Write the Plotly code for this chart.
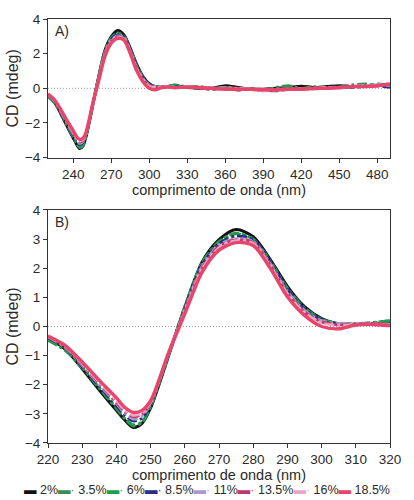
import plotly.graph_objects as go

# ---------------- data ----------------
wavelength = [220, 225, 230, 235, 240, 242.5, 245, 247.5, 250, 252.5, 255, 260, 265, 270, 275, 280, 285, 290,
              295, 300, 305, 310, 315, 320,
              330, 340, 350, 360, 370, 380, 390, 400, 410, 420, 430, 440, 450, 460, 470, 480, 490]

series_names = ["2%", "3.5%", "6%", "8.5%", "11%", "13.5%", "16%", "18.5%"]

cd_2 = [-0.40, -0.78, -1.45, -2.18, -2.88, -3.22, -3.47, -3.33, -2.80, -1.98, -1.10, 0.66, 2.20, 2.98, 3.33, 3.08, 2.30, 1.38,
        0.68, 0.27, 0.09, 0.08, 0.10, 0.12,
        0.05, 0.02, 0.00, 0.15, 0.05, -0.05, -0.05, 0.00, 0.05, 0.12, 0.05, 0.10, 0.15, 0.10, 0.15, 0.15, 0.20]
cd_3_5 = [-0.48, -0.82, -1.42, -2.12, -2.82, -3.18, -3.42, -3.30, -2.76, -1.94, -1.08, 0.68, 2.18, 2.92, 3.20, 3.00, 2.25, 1.32,
          0.64, 0.25, 0.10, 0.10, 0.14, 0.18,
          0.10, 0.05, 0.00, 0.05, 0.00, -0.05, -0.10, 0.05, 0.15, 0.00, 0.10, 0.05, 0.10, 0.20, 0.25, 0.20, 0.15]
cd_6 = [-0.45, -0.80, -1.40, -2.10, -2.80, -3.15, -3.38, -3.27, -2.73, -1.92, -1.06, 0.66, 2.15, 2.90, 3.18, 3.00, 2.22, 1.30,
        0.62, 0.24, 0.08, 0.08, 0.12, 0.20,
        0.08, 0.10, 0.00, 0.05, -0.05, 0.00, -0.08, 0.00, 0.10, -0.05, 0.05, 0.00, 0.05, 0.10, 0.15, 0.25, 0.20]
cd_8_5 = [-0.38, -0.74, -1.38, -2.05, -2.72, -3.05, -3.25, -3.15, -2.68, -1.89, -1.05, 0.62, 2.10, 2.85, 3.10, 2.98, 2.22, 1.28,
          0.60, 0.22, 0.06, 0.07, 0.10, 0.10,
          0.05, 0.00, -0.05, 0.00, -0.10, -0.05, -0.10, -0.15, -0.05, -0.05, 0.00, 0.05, 0.10, 0.05, 0.10, 0.15, 0.05]
cd_11 = [-0.36, -0.72, -1.33, -2.00, -2.65, -2.98, -3.18, -3.08, -2.65, -1.87, -1.03, 0.58, 2.05, 2.80, 3.02, 2.92, 2.15, 1.20,
         0.55, 0.20, 0.10, 0.10, 0.10, 0.08,
         0.05, 0.05, 0.00, 0.05, 0.00, -0.05, -0.15, -0.10, -0.05, 0.00, -0.05, 0.05, 0.05, 0.10, 0.15, 0.20, 0.15]
cd_13_5 = [-0.35, -0.70, -1.30, -1.95, -2.60, -2.92, -3.10, -3.02, -2.62, -1.86, -1.02, 0.55, 2.00, 2.75, 2.98, 2.88, 2.10, 1.15,
           0.50, 0.16, 0.06, 0.08, 0.10, 0.06,
           0.05, 0.00, -0.05, 0.00, 0.00, -0.05, -0.10, -0.05, 0.00, -0.05, 0.00, 0.00, 0.05, 0.10, 0.10, 0.15, 0.20]
cd_16 = [-0.34, -0.68, -1.27, -1.92, -2.55, -2.88, -3.05, -2.97, -2.60, -1.85, -1.00, 0.50, 1.95, 2.70, 2.95, 2.85, 2.08, 1.12,
         0.48, 0.12, 0.04, 0.07, 0.08, 0.05,
         0.10, 0.05, 0.00, -0.05, 0.00, -0.05, -0.15, -0.10, -0.05, -0.05, 0.00, 0.05, 0.00, 0.10, 0.15, 0.20, 0.25]
cd_18_5 = [-0.33, -0.65, -1.22, -1.85, -2.45, -2.78, -2.95, -2.88, -2.55, -1.82, -0.98, 0.43, 1.85, 2.62, 2.88, 2.78, 2.00, 1.02,
           0.38, 0.00, -0.08, 0.05, 0.07, 0.03,
           0.08, 0.05, 0.00, -0.05, -0.05, -0.05, -0.08, -0.10, -0.05, -0.05, 0.00, 0.00, 0.05, 0.10, 0.10, 0.15, 0.25]

all_series = [cd_2, cd_3_5, cd_6, cd_8_5, cd_11, cd_13_5, cd_16, cd_18_5]

# ---------------- styles ----------------
colors = ["#111111", "#3d8c55", "#1e9e50", "#2c2c86", "#a99ccb", "#c2376a", "#eaa6c6", "#e8456b"]
dashes = ["solid", "10px,3px,3px,3px", "10px,3px,3px,3px", "10px,3px,3px,3px",
          "10px,3px,3px,3px", "10px,3px,3px,3px", "10px,3px,3px,3px", "solid"]
widths = [3, 2.8, 2.8, 2.8, 2.8, 2.8, 2.8, 3.4]

FONT = "Liberation Sans, Arial, sans-serif"
TXT = "#2a2a2a"
LINE = "#333333"

fig = go.Figure()
for name, vals, c, d, w in zip(series_names, all_series, colors, dashes, widths):
    fig.add_trace(go.Scatter(x=wavelength, y=vals, mode="lines", name=name,
                             line=dict(color=c, dash=d, width=w, shape="spline", smoothing=0.8),
                             xaxis="x", yaxis="y", showlegend=False))
for name, vals, c, d, w in zip(series_names, all_series, colors, dashes, widths):
    fig.add_trace(go.Scatter(x=wavelength, y=vals, mode="lines", name=name,
                             line=dict(color=c, dash=d, width=w, shape="spline", smoothing=0.8),
                             xaxis="x2", yaxis="y2", showlegend=False))

tickfont = dict(family=FONT, size=13.5, color=TXT)
base_x = dict(showgrid=False, zeroline=False, showline=True, linecolor=LINE, linewidth=1,
              mirror=True, ticks="outside", ticklen=4, tickcolor=LINE, tickfont=tickfont)
base_y = dict(showgrid=False, zeroline=False, showline=True, linecolor=LINE, linewidth=1,
              mirror=True, ticks="outside", ticklen=4, tickcolor=LINE, tickfont=tickfont)
over = dict(showgrid=False, zeroline=False, showline=False, showticklabels=False,
            ticks="inside", ticklen=4, tickcolor=LINE)

xtitle = dict(text="comprimento de onda (nm)", font=dict(family=FONT, size=14.5, color=TXT), standoff=3)
ytitle = dict(text="CD (mdeg)", font=dict(family=FONT, size=16, color=TXT), standoff=2)

yA = [0.673, 1.0]
yB = [0.0, 0.5496]

fig.update_layout(
    width=414, height=500,
    margin=dict(l=45, r=24, t=16, b=57),
    paper_bgcolor="white", plot_bgcolor="white",
    xaxis=dict(base_x, domain=[0, 1], anchor="y", range=[220, 490], tick0=240, dtick=30, title=xtitle),
    yaxis=dict(base_y, domain=yA, anchor="x", range=[-4, 4], dtick=2, title=ytitle),
    xaxis2=dict(base_x, domain=[0, 1], anchor="y2", range=[220, 320], tick0=220, dtick=10, title=xtitle),
    yaxis2=dict(base_y, domain=yB, anchor="x2", range=[-4, 4], dtick=1, title=ytitle),
    xaxis3=dict(over, overlaying="x", anchor="y", side="top", range=[220, 490], tick0=240, dtick=30),
    yaxis3=dict(over, overlaying="y", anchor="x", side="right", range=[-4, 4], dtick=2),
    xaxis4=dict(over, overlaying="x2", anchor="y2", side="top", range=[220, 320], tick0=220, dtick=10),
    yaxis4=dict(over, overlaying="y2", anchor="x2", side="right", range=[-4, 4], dtick=1),
    showlegend=False,
)

# dotted zero reference lines
for xr, yr in [("x domain", "y"), ("x2 domain", "y2")]:
    fig.add_shape(type="line", xref=xr, yref=yr, x0=0, x1=1, y0=0, y1=0,
                  line=dict(color="#9a9a9a", width=1, dash="1px,2px"), layer="below")

# panel labels
fig.add_annotation(text="A)", xref="x domain", yref="y domain", x=0.015, y=0.985,
                   xanchor="left", yanchor="top", showarrow=False,
                   font=dict(family=FONT, size=14, color=TXT))
fig.add_annotation(text="B)", xref="x2 domain", yref="y2 domain", x=0.015, y=0.99,
                   xanchor="left", yanchor="top", showarrow=False,
                   font=dict(family=FONT, size=14, color=TXT))

# legend row (text keys)
parts = []
for name, c, d in zip(series_names, colors, dashes):
    key = "▬" if d == "solid" else "▬·"
    parts.append(f"<span style='color:{c}'>{key}</span> {name}")
fig.add_annotation(text="".join(parts), xref="paper", yref="paper", x=0.464, y=-0.112,
                   xanchor="center", yanchor="middle", showarrow=False,
                   font=dict(family=FONT, size=12.5, color=TXT))

fig.write_html("out.html")
